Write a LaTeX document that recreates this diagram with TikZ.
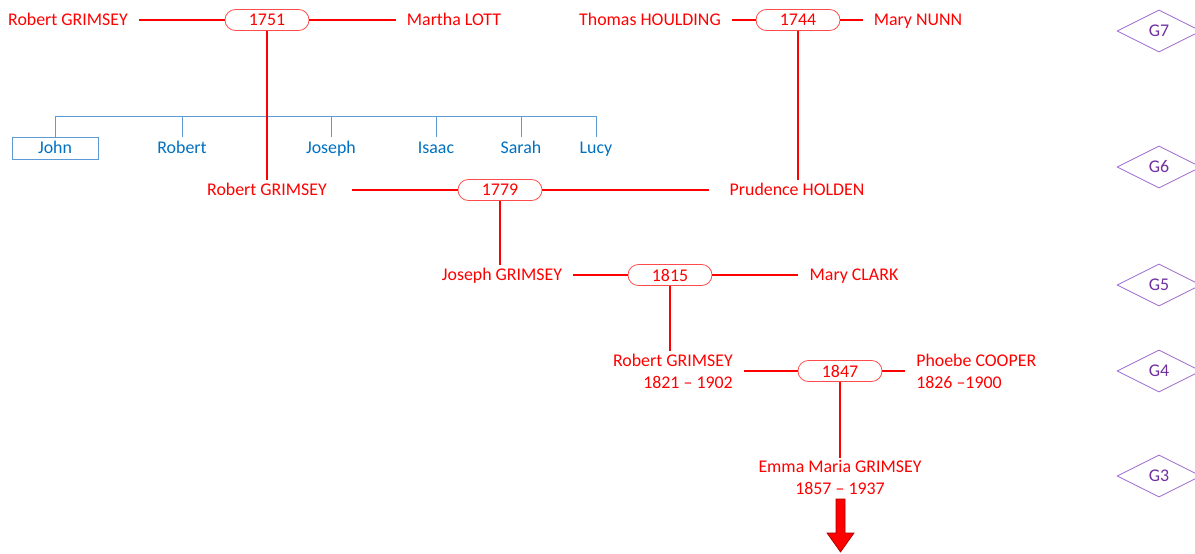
\documentclass[tikz,border=0pt]{standalone}
\usepackage{fontspec}
\setmainfont{Carlito}
\usetikzlibrary{shapes.geometric,calc}
\definecolor{fred}{HTML}{FF0000}
\definecolor{boxred}{HTML}{FF4B4B}
\definecolor{kidblue}{HTML}{0070C0}
\definecolor{kidline}{HTML}{5B9BD5}
\definecolor{gpurple}{HTML}{7030A0}
\definecolor{gline}{HTML}{9966CC}
\definecolor{arrowedge}{HTML}{A00000}
\tikzset{
  person/.style={text=fred, font=\fontsize{13.4}{16.5}\selectfont, inner xsep=8.25pt, inner ysep=1.5pt},
  single/.style={text height=10pt, text depth=1.4pt},
  marriage/.style={draw=boxred, line width=0.6pt, rounded corners=7.8pt, minimum width=63pt, minimum height=15.75pt, inner sep=0pt, text=fred, font=\fontsize{13.4}{16}\selectfont},
  redline/.style={draw=fred, line width=1.8pt},
  kid/.style={text=kidblue, font=\fontsize{13.4}{16}\selectfont, minimum height=16.5pt, inner sep=0pt, text height=10pt, text depth=1.4pt},
  kidbox/.style={kid, draw=kidline, line width=0.75pt, minimum width=64.5pt},
  blueline/.style={draw=kidline, line width=0.75pt},
  gen/.style={shape=diamond, draw=gline, line width=0.6pt, minimum width=63pt, minimum height=31.5pt, inner sep=0pt, text=gpurple, font=\fontsize{13.4}{16}\selectfont}
}
\begin{document}
\begin{tikzpicture}[x=0.75pt, y=-0.75pt]
\useasboundingbox (0,0) rectangle (1195,553);
% G7
\node[person, single] (rg7) at (68,20) {Robert GRIMSEY};
\node[marriage] (m1751) at (267,20) {1751};
\node[person, single] (ml) at (454,20) {Martha LOTT};
\node[person, single] (th) at (650,20) {Thomas HOULDING};
\node[marriage] (m1744) at (798,20) {1744};
\node[person, single] (mn) at (918,20) {Mary NUNN};
% children
\coordinate (bar) at (0,116);
\node[kidbox] (john) at (55,148) {John};
\node[kid] (robert) at (182,148) {Robert};
\node[kid] (joseph) at (331,148) {Joseph};
\node[kid] (isaac) at (436,148) {Isaac};
\node[kid] (sarah) at (521,148) {Sarah};
\node[kid] (lucy) at (596,148) {Lucy};
% G6
\node[person, single] (rg6) at (267,190) {Robert GRIMSEY};
\node[marriage] (m1779) at (500,190) {1779};
\node[person, single] (ph) at (797,190) {Prudence HOLDEN};
% G5
\node[person, single] (jg) at (502,275) {Joseph GRIMSEY};
\node[marriage] (m1815) at (670,275) {1815};
\node[person, single] (mc) at (854,275) {Mary CLARK};
% G4
\node[person, anchor=east, align=right] (rg4) at (744,371) {Robert GRIMSEY\\1821 -- 1902};
\node[marriage] (m1847) at (840,371) {1847};
\node[person, anchor=west, align=left] (pc) at (905,371) {Phoebe COOPER\\1826 --1900};
% G3
\node[person, align=center] (em) at (840,477) {Emma Maria GRIMSEY\\1857 -- 1937};
% generation markers
\node[gen] (g7) at (1159,31) {G7};
\node[gen] (g6) at (1159,167) {G6};
\node[gen] (g5) at (1159,285) {G5};
\node[gen] (g4) at (1159,371) {G4};
\node[gen] (g3) at (1159,476) {G3};
% children lines
\draw[blueline] (john.north |- bar) -- (lucy.north |- bar);
\foreach \k in {john,robert,joseph,isaac,sarah,lucy}
  \draw[blueline] (\k.north) -- (\k.north |- bar);
% red couple lines
\draw[redline] (rg7.east) -- (m1751.west);
\draw[redline] (m1751.east) -- (ml.west);
\draw[redline] (th.east) -- (m1744.west);
\draw[redline] (m1744.east) -- (mn.west);
\draw[redline] ($(rg6.east)+(14,0)$) -- (m1779.west);
\draw[redline] (m1779.east) -- ($(ph.west)+(-9,0)$);
\draw[redline] (jg.east) -- (m1815.west);
\draw[redline] (m1815.east) -- (mc.west);
\draw[redline] (rg4.east) -- (m1847.west);
\draw[redline] (m1847.east) -- (pc.west);
% descent lines
\draw[redline] (m1751.south) -- (m1751.south |- rg6.north);
\draw[redline] (m1744.south) -- (m1744.south |- ph.north);
\draw[redline] (m1779.south) -- (m1779.south |- jg.north);
\draw[redline] (m1815.south) -- (m1815.south |- rg4.north);
\draw[redline] (m1847.south) -- (em.north);
% down arrow
\coordinate (arr) at (840.5,499);
\draw[fill=fred, draw=arrowedge, line width=0.5pt]
  ($(arr)+(-4.5,0)$) -- ($(arr)+(4.5,0)$) -- ($(arr)+(4.5,34)$) -- ($(arr)+(13.5,34)$)
  -- ($(arr)+(0,53)$) -- ($(arr)+(-13.5,34)$) -- ($(arr)+(-4.5,34)$) -- cycle;
\end{tikzpicture}
\end{document}
